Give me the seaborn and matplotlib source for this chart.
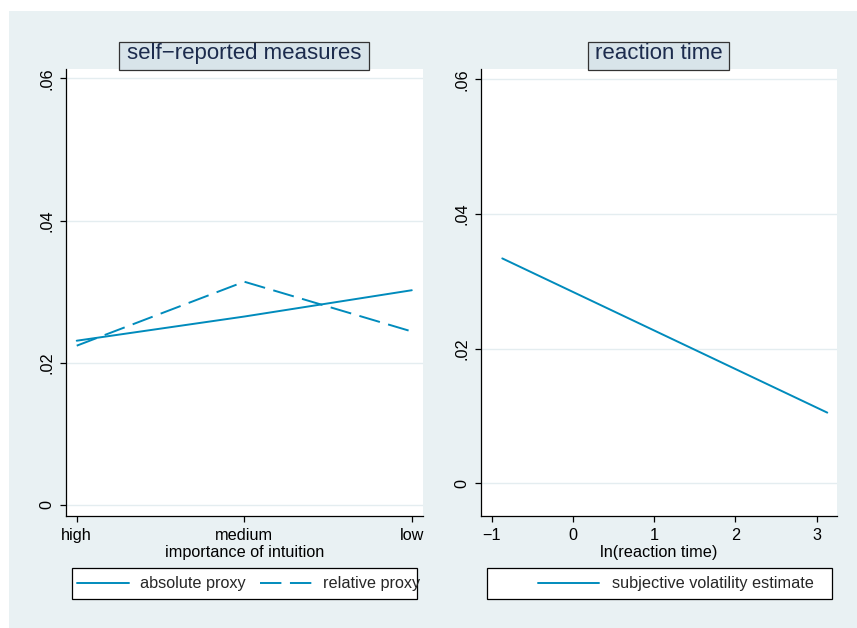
import matplotlib
matplotlib.use("Agg")
import matplotlib.pyplot as plt
from matplotlib.patches import Rectangle
from matplotlib.lines import Line2D
import pandas as pd
import seaborn as sns

# ---- data -------------------------------------------------------------
intuition_levels = ["high", "medium", "low"]
absolute_proxy = [0.0231, 0.0265, 0.0302]
relative_proxy = [0.0224, 0.0314, 0.0244]

ln_reaction_time = [-0.87, 3.13]
volatility_estimate = [0.0334, 0.0105]

y_ticks = [0, 0.02, 0.04, 0.06]
y_tick_labels = ["0", ".02", ".04", ".06"]
rt_ticks = [-1, 0, 1, 2, 3]

left_title = "self\u2212reported measures"
right_title = "reaction time"
left_xlabel = "importance of intuition"
right_xlabel = "ln(reaction time)"
left_series = ["absolute proxy", "relative proxy"]
right_series = ["subjective volatility estimate"]

# ---- style ------------------------------------------------------------
sns.set_theme(style="white")
plt.rcParams["font.family"] = ["Liberation Sans", "DejaVu Sans"]
plt.rcParams["axes.unicode_minus"] = True

W, H = 857, 628
LINE = "#008bbc"
BG = "#e9f1f3"
TITLE_FILL = "#d8e4ea"
TITLE_TEXT = "#1c2b4d"
GRID = "#e4edf0"
FS = 11.7
LW = 1.4
DASH = (11, 4.4)


def fig_rect(x0, y0, x1, y1):
    """pixel box (top-left origin) -> figure fraction [left, bottom, w, h]"""
    return [x0 / W, 1 - y1 / H, (x1 - x0) / W, (y1 - y0) / H]


fig = plt.figure(figsize=(W / 100, H / 100), dpi=100)
fig.patch.set_facecolor("white")
bx = fig_rect(9, 11, W, H)
fig.add_artist(Rectangle((bx[0], bx[1]), bx[2], bx[3], transform=fig.transFigure,
                         facecolor=BG, edgecolor="none", zorder=0))

ax1 = fig.add_axes(fig_rect(66, 69.3, 423, 516))
ax2 = fig.add_axes(fig_rect(481, 69.3, 836.7, 516))

# ---- left panel: self-reported measures --------------------------------
df_left = pd.DataFrame({
    "level": intuition_levels * 2,
    "value": absolute_proxy + relative_proxy,
    "series": [left_series[0]] * 3 + [left_series[1]] * 3,
})
sns.lineplot(data=df_left, x="level", y="value", style="series",
             dashes={left_series[0]: "", left_series[1]: DASH},
             color=LINE, lw=LW, sort=False, legend=False, ax=ax1)
ax1.set_xlim(-0.064, 2.067)
ax1.set_ylim(-0.00155, 0.06127)
ax1.set_xticks(range(len(intuition_levels)))
ax1.set_xticklabels(intuition_levels)

# ---- right panel: reaction time ----------------------------------------
sns.lineplot(x=ln_reaction_time, y=volatility_estimate, color=LINE, lw=LW,
             legend=False, ax=ax2)
ax2.set_xlim(-1.132, 3.246)
ax2.set_ylim(-0.00485, 0.06148)
ax2.set_xticks(rt_ticks)
ax2.set_xticklabels([str(t).replace("-", "\u2212") for t in rt_ticks])

for ax, xlabel in ((ax1, left_xlabel), (ax2, right_xlabel)):
    ax.set_facecolor("white")
    ax.set_yticks(y_ticks)
    ax.set_yticklabels(y_tick_labels)
    ax.grid(axis="y", color=GRID, lw=1.0)
    ax.grid(axis="x", visible=False)
    ax.set_axisbelow(True)
    for side in ("top", "right"):
        ax.spines[side].set_visible(False)
    for side in ("left", "bottom"):
        ax.spines[side].set_color("black")
        ax.spines[side].set_linewidth(0.9)
    ax.tick_params(axis="both", which="major", length=4.3, width=0.9,
                   color="black", direction="out", labelsize=FS,
                   labelcolor="black", pad=4.3, bottom=True, left=True)
    ax.tick_params(axis="y", labelrotation=90)
    for lab in ax.get_yticklabels():
        lab.set_va("center")
    ax.set_xlabel(xlabel, fontsize=FS, color="black", labelpad=1.5)
    ax.set_ylabel("")

# ---- panel title boxes -------------------------------------------------
for (x0, x1), text in (((119, 369), left_title), ((588.3, 729.3), right_title)):
    r = fig_rect(x0, 41.7, x1, 70)
    fig.add_artist(Rectangle((r[0], r[1]), r[2], r[3], transform=fig.transFigure,
                             facecolor=TITLE_FILL, edgecolor="#333333", lw=0.9,
                             zorder=3))
    fig.text((x0 + x1) / 2 / W, 1 - 59.3 / H, text, ha="center", va="baseline",
             fontsize=16, color=TITLE_TEXT, zorder=4)

# ---- legends -----------------------------------------------------------
for x0, x1 in ((71.7, 416.7), (486.7, 831.7)):
    r = fig_rect(x0, 568.3, x1, 599.3)
    fig.add_artist(Rectangle((r[0], r[1]), r[2], r[3], transform=fig.transFigure,
                             facecolor="white", edgecolor="black", lw=0.9,
                             zorder=3))

left_handles = [Line2D([], [], color=LINE, lw=LW),
                Line2D([], [], color=LINE, lw=LW, dashes=DASH)]
leg1 = fig.legend(left_handles, left_series, loc="center",
                  bbox_to_anchor=(249 / W, 1 - 583.8 / H), ncol=2,
                  frameon=False, fontsize=FS, handlelength=3.2,
                  handletextpad=0.68, columnspacing=0.88, borderpad=0,
                  borderaxespad=0)
leg1.set_zorder(5)

right_handles = [Line2D([], [], color=LINE, lw=LW)]
leg2 = fig.legend(right_handles, right_series, loc="center",
                  bbox_to_anchor=(676 / W, 1 - 583.8 / H), ncol=1,
                  frameon=False, fontsize=FS, handlelength=3.75,
                  handletextpad=0.78, borderpad=0, borderaxespad=0)
leg2.set_zorder(5)

fig.savefig("out.png", dpi=100, facecolor=fig.get_facecolor())
